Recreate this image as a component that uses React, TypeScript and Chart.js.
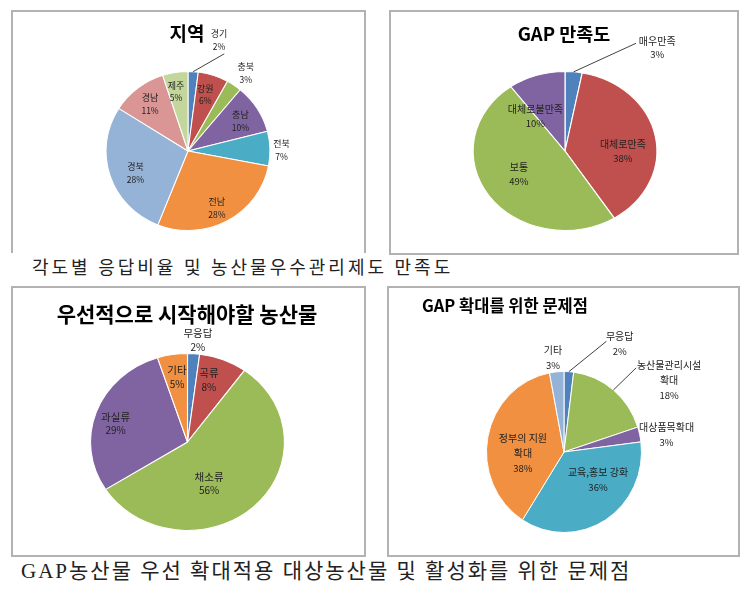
import React, { useEffect, useRef } from "react";
import { Chart, registerables } from "chart.js";

Chart.register(...registerables);

const FONT = '"Noto Sans CJK KR", "Noto Sans", sans-serif';
const CAPTION_FONT = '"Liberation Serif", "Noto Sans CJK KR", serif';

// ---- Data ----
const regionLabels = ["경기", "강원", "충북", "충남", "전북", "전남", "경북", "경남", "제주"];
const regionValues = [2, 6, 3, 10, 7, 28, 28, 11, 5];
const regionColors = ["#4F81BD", "#C0504D", "#9BBB59", "#8064A2", "#4BACC6", "#F09040", "#95B3D7", "#D99694", "#C3D69B"];

const satisfactionLabels = ["매우만족", "대체로만족", "보통", "대체로불만족"];
const satisfactionValues = [3, 38, 49, 10];
const satisfactionColors = ["#4F81BD", "#C0504D", "#9BBB59", "#8064A2"];

const cropLabels = ["무응답", "곡류", "채소류", "과실류", "기타"];
const cropValues = [2, 8, 56, 29, 5];
const cropColors = ["#4F81BD", "#C0504D", "#9BBB59", "#8064A2", "#F09040"];

const problemLabels = ["무응답", "농산물관리시설\n확대", "대상품목확대", "교육,홍보 강화", "정부의 지원\n확대", "기타"];
const problemValues = [2, 18, 3, 36, 38, 3];
const problemColors = ["#4F81BD", "#9BBB59", "#8064A2", "#4BACC6", "#F09040", "#95B3D7"];

const titles = ["지역", "GAP 만족도", "우선적으로 시작해야할 농산물", "GAP 확대를 위한 문제점"];
const caption1 = "각도별 응답비율 및 농산물우수관리제도 만족도";
const caption2 = "GAP농산물 우선 확대적용 대상농산물 및 활성화를 위한 문제점";

// ---- Layout (label placement: [angle deg clockwise from top, distance in radii]) ----
type Spec = {
  labels: string[];
  values: number[];
  colors: string[];
  panel: { x: number; y: number; w: number; h: number; noBottom?: boolean };
  cx: number;
  cy: number;
  rx: number;
  ry: number;
  place: number[][];
  leaders: (number[] | null)[];
  font: number;
  lineH: number;
  title: { text: string; x: number; y: number; size: number; align: "center" | "left" };
};

const specs: Spec[] = [
  {
    labels: regionLabels,
    values: regionValues,
    colors: regionColors,
    panel: { x: 11, y: 10, w: 355, h: 243, noBottom: true },
    cx: 188, cy: 151, rx: 82.5, ry: 80,
    place: [[15.2, 1.44], [16.6, 0.74], [35.6, 1.21], [59.7, 0.74], [89.4, 1.14], [153.9, 0.8], [246.4, 0.7], [321.9, 0.75], [349, 0.76]],
    leaders: [[19.9, 1.3], null, null, null, null, null, null, null, null],
    font: 9,
    lineH: 13,
    title: { text: titles[0], x: 187, y: 33, size: 19, align: "center" },
  },
  {
    labels: satisfactionLabels,
    values: satisfactionValues,
    colors: satisfactionColors,
    panel: { x: 389, y: 10, w: 350, h: 245 },
    cx: 565, cy: 151, rx: 92.5, ry: 80,
    place: [[37.7, 1.64], [90.5, 0.63], [239.7, 0.58], [323.5, 0.54]],
    leaders: [[29.7, 1.56], null, null, null],
    font: 10,
    lineH: 14,
    title: { text: titles[1], x: 564, y: 33, size: 18.5, align: "center" },
  },
  {
    labels: cropLabels,
    values: cropValues,
    colors: cropColors,
    panel: { x: 11, y: 286, w: 355, h: 271 },
    cx: 187.5, cy: 442, rx: 97.5, ry: 89,
    place: [[5.3, 1.16], [17.6, 0.73], [154.7, 0.52], [285.6, 0.77], [351.6, 0.74]],
    leaders: [null, null, null, null, null],
    font: 10.5,
    lineH: 14,
    title: { text: titles[2], x: 187, y: 313, size: 21, align: "center" },
  },
  {
    labels: problemLabels,
    values: problemValues,
    colors: problemColors,
    panel: { x: 387, y: 286, w: 353, h: 271 },
    cx: 564, cy: 452, rx: 78, ry: 81,
    place: [[28.2, 1.52], [56.8, 1.62], [81, 1.34], [128.4, 0.56], [268.7, 0.53], [353.1, 1.18]],
    leaders: [[21.7, 1.48], [41.7, 1.4], null, null, null, null],
    font: 10,
    lineH: 15,
    title: { text: titles[3], x: 422, y: 305, size: 16.5, align: "left" },
  },
];

function makePlugin(spec: Spec) {
  const sx = spec.rx / spec.ry;
  return {
    id: "pieLabels",
    beforeDatasetsDraw(chart: any) {
      const ctx = chart.ctx;
      const meta = chart.getDatasetMeta(0);
      const a = meta.data[0];
      ctx.save();
      ctx.translate(a.x, a.y);
      ctx.scale(sx, 1);
      ctx.translate(-a.x, -a.y);
    },
    afterDatasetsDraw(chart: any) {
      const ctx = chart.ctx;
      ctx.restore();
      const meta = chart.getDatasetMeta(0);
      const labels = chart.data.labels as string[];
      const data = chart.data.datasets[0].data as number[];
      meta.data.forEach((arc: any, i: number) => {
        const { x, y, startAngle, endAngle, outerRadius } = arc.getProps(
          ["x", "y", "startAngle", "endAngle", "outerRadius"],
          true
        );
        const rX = outerRadius * sx;
        const rY = outerRadius;
        const polar = (deg: number, d: number) => {
          const t = (deg * Math.PI) / 180;
          return [x + Math.sin(t) * d * rX, y - Math.cos(t) * d * rY];
        };
        const lead = spec.leaders[i];
        if (lead) {
          const mid = (startAngle + endAngle) / 2;
          const [ex, ey] = polar(lead[0], lead[1]);
          ctx.save();
          ctx.beginPath();
          ctx.moveTo(x + Math.cos(mid) * rX, y + Math.sin(mid) * rY);
          ctx.lineTo(ex, ey);
          ctx.strokeStyle = "#111";
          ctx.lineWidth = 0.8;
          ctx.stroke();
          ctx.restore();
        }
        const p = spec.place[i];
        const [tx, ty] = polar(p[0], p[1]);
        const lines = String(labels[i]).split("\n").concat([data[i] + "%"]);
        ctx.save();
        ctx.fillStyle = "#222";
        ctx.textAlign = "center";
        ctx.textBaseline = "middle";
        lines.forEach((ln, k) => {
          const isPct = k === lines.length - 1;
          ctx.font = `${isPct ? spec.font - 0.5 : spec.font}px ${FONT}`;
          ctx.fillText(ln, tx, ty + (k - (lines.length - 1) / 2) * spec.lineH);
        });
        ctx.restore();
      });
    },
  };
}

function PiePanel({ spec }: { spec: Spec }) {
  const ref = useRef<HTMLCanvasElement | null>(null);
  const { panel } = spec;
  useEffect(() => {
    if (!ref.current) return;
    const r = spec.ry;
    const chart = new Chart(ref.current, {
      type: "pie",
      data: {
        labels: spec.labels,
        datasets: [
          {
            data: spec.values,
            backgroundColor: spec.colors,
            borderColor: "#ffffff",
            borderWidth: 1,
          },
        ],
      },
      options: {
        responsive: false,
        maintainAspectRatio: false,
        animation: false,
        layout: {
          padding: {
            left: spec.cx - r - panel.x,
            top: spec.cy - r - panel.y,
            right: panel.x + panel.w - (spec.cx + r),
            bottom: panel.y + panel.h - (spec.cy + r),
          },
        },
        plugins: {
          legend: { display: false },
          tooltip: { enabled: false },
          title: { display: false },
        },
      },
      plugins: [makePlugin(spec)],
    } as any);
    return () => chart.destroy();
  }, []);
  return (
    <>
      <div
        style={{
          position: "absolute",
          left: panel.x,
          top: panel.y,
          width: panel.w,
          height: panel.h,
          boxSizing: "border-box",
          border: "2px solid #b2b2b2",
          borderBottom: panel.noBottom ? "none" : "2px solid #b2b2b2",
          background: "#fff",
        }}
      />
      <canvas
        ref={ref}
        width={panel.w}
        height={panel.h}
        style={{ position: "absolute", left: panel.x, top: panel.y, width: panel.w, height: panel.h }}
      />
      <div
        style={{
          position: "absolute",
          left: spec.title.align === "center" ? spec.title.x - 200 : spec.title.x,
          width: spec.title.align === "center" ? 400 : 320,
          top: spec.title.y - 14,
          height: 28,
          lineHeight: "28px",
          textAlign: spec.title.align,
          fontFamily: FONT,
          fontWeight: 700,
          fontSize: spec.title.size,
          color: "#000",
          whiteSpace: "nowrap",
        }}
      >
        {spec.title.text}
      </div>
    </>
  );
}

export default function App() {
  return (
    <div style={{ position: "absolute", left: 0, top: 0, width: 756, height: 591, background: "#fff", overflow: "hidden" }}>
      {specs.map((s, i) => (
        <PiePanel key={i} spec={s} />
      ))}
      <div
        style={{
          position: "absolute",
          left: 32,
          top: 268 - 13,
          height: 26,
          lineHeight: "26px",
          fontFamily: CAPTION_FONT,
          fontSize: 18,
          letterSpacing: 3,
          color: "#222",
          whiteSpace: "nowrap",
        }}
      >
        {caption1}
      </div>
      <div
        style={{
          position: "absolute",
          left: 21,
          top: 571 - 14,
          height: 28,
          lineHeight: "28px",
          fontFamily: CAPTION_FONT,
          fontSize: 21,
          letterSpacing: 2,
          color: "#222",
          whiteSpace: "nowrap",
        }}
      >
        {caption2}
      </div>
    </div>
  );
}
